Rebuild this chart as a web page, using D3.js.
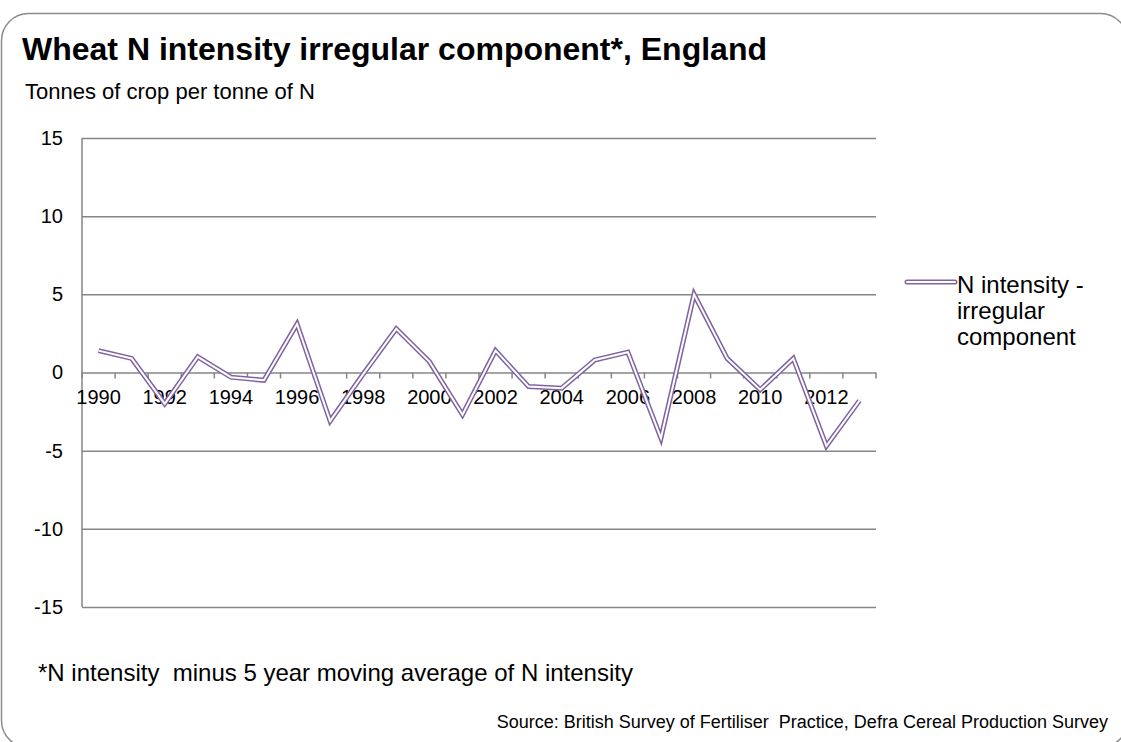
<!DOCTYPE html>
<html>
<head>
<meta charset="utf-8">
<script src="https://cdn.jsdelivr.net/npm/d3@7"></script>
<style>
  html, body { margin: 0; padding: 0; background: #fff; }
  svg { display: block; font-family: "Liberation Sans", Arial, sans-serif; }
</style>
</head>
<body>
<div id="chart"></div>
<script>
const years = [1990, 1991, 1992, 1993, 1994, 1995, 1996, 1997, 1998, 1999, 2000, 2001,
  2002, 2003, 2004, 2005, 2006, 2007, 2008, 2009, 2010, 2011, 2012, 2013];
const irregular = [1.4, 0.9, -2.0, 1.0, -0.3, -0.5, 3.1, -3.1, -0.1, 2.8, 0.7, -2.7,
  1.4, -0.9, -1.0, 0.8, 1.3, -4.2, 5.0, 0.9, -1.1, 0.9, -4.7, -1.8];
const yTicks = [-15, -10, -5, 0, 5, 10, 15];
const xLabels = [1990, 1992, 1994, 1996, 1998, 2000, 2002, 2004, 2006, 2008, 2010, 2012];
const seriesName = ["N intensity -", "irregular", "component"];

const W = 1121, H = 742;
const PURPLE = "#8064a2";
const GRID = "#868686";

const svg = d3.select("#chart").append("svg").attr("width", W).attr("height", H);

// rounded chart frame (runs past the right and bottom edge)
svg.append("rect")
  .attr("x", 1.5).attr("y", 13.5).attr("width", 1126).attr("height", 734)
  .attr("rx", 27).attr("ry", 27)
  .attr("fill", "none").attr("stroke", "#8c8c8c").attr("stroke-width", 1.5);

svg.append("text").attr("x", 22).attr("y", 60)
  .attr("font-size", 32).attr("font-weight", "bold").attr("fill", "#000")
  .text("Wheat N intensity irregular component*, England");

svg.append("text").attr("x", 25).attr("y", 99)
  .attr("font-size", 22).attr("fill", "#000")
  .text("Tonnes of crop per tonne of N");

const x = d3.scaleBand().domain(years).range([82, 876]);
const y = d3.scaleLinear().domain([-15, 15]).range([607, 138]);

// gridlines + y labels
const yAxis = d3.axisLeft(y).tickValues(yTicks).tickSize(-(876 - 82)).tickPadding(19)
  .tickFormat((d) => String(d));
const gy = svg.append("g").attr("transform", "translate(82,0)").call(yAxis);
gy.select(".domain").remove();
gy.selectAll(".tick line").attr("stroke", GRID).attr("stroke-width", 1.5);
gy.selectAll(".tick text").attr("font-size", 20).attr("fill", "#000")
  .attr("font-family", "Liberation Sans, Arial, sans-serif");

// vertical value axis line
svg.append("line").attr("x1", 82).attr("x2", 82).attr("y1", y(15)).attr("y2", y(-15))
  .attr("stroke", GRID).attr("stroke-width", 1.5);

// category axis crossing at zero: ticks between categories
const bounds = years.map((d) => x(d)).concat([x.range()[1]]);
svg.append("g").selectAll("line").data(bounds).join("line")
  .attr("x1", (d) => d).attr("x2", (d) => d)
  .attr("y1", y(0)).attr("y2", y(0) + 6)
  .attr("stroke", GRID).attr("stroke-width", 1.5);

svg.append("g").selectAll("text").data(xLabels).join("text")
  .attr("x", (d) => x(d) + x.bandwidth() / 2)
  .attr("y", y(0) + 31)
  .attr("text-anchor", "middle").attr("font-size", 20).attr("fill", "#000")
  .text((d) => d);

// double line series
const line = d3.line()
  .x((d, i) => x(years[i]) + x.bandwidth() / 2)
  .y((d) => y(d));
svg.append("path").datum(irregular).attr("d", line)
  .attr("fill", "none").attr("stroke", PURPLE).attr("stroke-width", 5)
  .attr("stroke-linejoin", "miter");
svg.append("path").datum(irregular).attr("d", line)
  .attr("fill", "none").attr("stroke", "#fff").attr("stroke-width", 2)
  .attr("stroke-linejoin", "miter");

// legend
const lg = svg.append("g");
lg.append("line").attr("x1", 907).attr("x2", 955).attr("y1", 282).attr("y2", 282)
  .attr("stroke", PURPLE).attr("stroke-width", 5).attr("stroke-linecap", "round");
lg.append("line").attr("x1", 907).attr("x2", 955).attr("y1", 282).attr("y2", 282)
  .attr("stroke", "#fff").attr("stroke-width", 2).attr("stroke-linecap", "round");
lg.append("text").attr("font-size", 24).attr("fill", "#000")
  .selectAll("tspan").data(seriesName).join("tspan")
  .attr("x", 957).attr("y", (d, i) => 293 + i * 26)
  .text((d) => d);

svg.append("text").attr("x", 38).attr("y", 681)
  .attr("font-size", 24).attr("fill", "#000")
  .style("white-space", "pre")
  .text("*N intensity  minus 5 year moving average of N intensity");

svg.append("text").attr("x", 1108).attr("y", 728)
  .attr("text-anchor", "end").attr("font-size", 18).attr("fill", "#000")
  .style("white-space", "pre")
  .text("Source: British Survey of Fertiliser  Practice, Defra Cereal Production Survey");
</script>
</body>
</html>
